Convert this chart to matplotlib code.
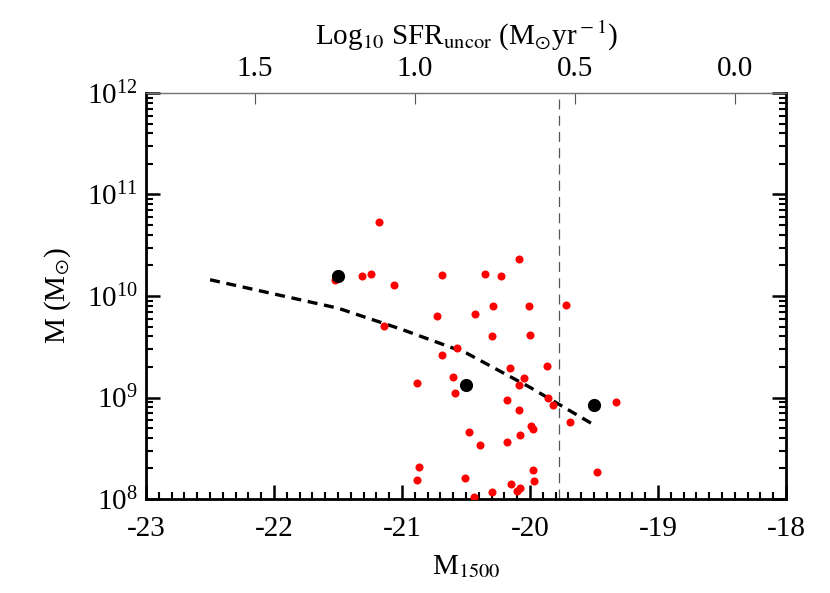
import numpy as np
import matplotlib
matplotlib.use("Agg")
import matplotlib.pyplot as plt
from matplotlib.ticker import LogLocator, LogFormatterMathtext, MultipleLocator, FixedLocator

plt.rcParams["font.family"] = ["Liberation Serif", "DejaVu Serif"]
plt.rcParams["mathtext.fontset"] = "stix"

# individual galaxies: UV magnitude and log stellar mass
red_mag = [-21.18, -21.52, -21.31, -21.24, -21.06, -20.69, -20.73, -20.43, -21.14, -20.57,
           -20.69, -20.60, -20.88, -20.59, -20.48, -20.39, -20.87, -20.88, -20.51, -20.44,
           -20.35, -20.23, -20.09, -20.29, -20.01, -19.72, -20.30, -20.00, -20.16, -20.05,
           -20.09, -19.87, -19.86, -19.82, -20.18, -20.09, -19.69, -19.33, -19.99, -19.98,
           -20.08, -20.18, -19.98, -19.97, -19.48, -20.15, -20.08, -20.10, -20.30]
red_logm = [10.73, 10.16, 10.20, 10.22, 10.11, 10.21, 9.80, 9.82, 9.70, 9.49,
            9.42, 9.20, 9.14, 9.04, 8.66, 8.53, 8.32, 8.19, 8.21, 8.02,
            10.22, 10.20, 10.36, 9.90, 9.90, 9.91, 9.61, 9.62, 9.29, 9.19,
            9.12, 9.31, 9.00, 8.93, 8.98, 8.88, 8.76, 8.96, 8.72, 8.69,
            8.63, 8.56, 8.29, 8.18, 8.27, 8.15, 8.11, 8.08, 8.07]

# binned medians
bin_mag = [-21.5, -20.5, -19.5]
bin_logm = [10.20, 9.12, 8.93]

# dashed relation
rel_mag = [-22.5, -22.0, -21.5, -21.0, -20.5, -20.0, -19.5]
rel_logm = [10.16, 10.02, 9.88, 9.67, 9.44, 9.10, 8.73]

mag_limit = -19.77
sfr_ticks = [1.5, 1.0, 0.5, 0.0]


def mag_to_sfr(m):
    return -0.4 * np.asarray(m) - 7.36


def sfr_to_mag(s):
    return (np.asarray(s) + 7.36) / -0.4


fig = plt.figure(figsize=(8.3, 5.93), dpi=100)
ax = fig.add_axes([0.176, 0.1585, 0.771, 0.6847])

ax.plot(rel_mag, 10 ** np.array(rel_logm), color="black", lw=2.4, ls=(0, (3, 2)), zorder=2)
ax.plot(red_mag, 10 ** np.array(red_logm), "o", color="#ff0000", ms=5.8, mec="none", zorder=3)
ax.plot(bin_mag, 10 ** np.array(bin_logm), "o", color="black", ms=9.5, mec="none", zorder=4)
ax.axvline(mag_limit, color="#555555", lw=0.9, ls=(0, (8, 5)), zorder=1)

ax.set_yscale("log")
ax.set_xlim(-23, -18)
ax.set_ylim(1e8, 1e12)
ax.xaxis.set_major_locator(MultipleLocator(1))
ax.xaxis.set_minor_locator(MultipleLocator(0.1))
ax.yaxis.set_major_locator(LogLocator(base=10))
ax.yaxis.set_major_formatter(LogFormatterMathtext())
ax.yaxis.set_minor_locator(LogLocator(base=10, subs=np.arange(2, 10)))
ax.xaxis.set_major_formatter(plt.FuncFormatter(lambda v, p: "%d" % v))

ax.tick_params(axis="both", which="both", direction="in", labelsize=21, top=False, right=True)
ax.tick_params(axis="both", which="major", length=10, width=1.8)
ax.tick_params(axis="both", which="minor", length=5, width=1.5)
ax.tick_params(axis="x", pad=12)
ax.tick_params(axis="y", pad=6)

for side in ["left", "right", "bottom"]:
    ax.spines[side].set_linewidth(2)
ax.spines["top"].set_linewidth(0.9)
ax.spines["top"].set_color("#777777")

ax.set_xlabel("M$_{1500}$", fontsize=21, labelpad=8)
ax.set_ylabel("M (M$_{\\odot}$)", fontsize=21, labelpad=10)

sec = ax.secondary_xaxis("top", functions=(mag_to_sfr, sfr_to_mag))
sec.xaxis.set_major_locator(FixedLocator(sfr_ticks))
sec.xaxis.set_minor_locator(FixedLocator([]))
sec.xaxis.set_major_formatter(plt.FuncFormatter(lambda v, p: "%.1f" % v))
sec.tick_params(direction="in", length=8, width=0.8, color="#555555", labelsize=21, pad=8)
sec.spines["top"].set_linewidth(0.9)
sec.spines["top"].set_color("#777777")
sec.set_xlabel("Log$_{10}$ SFR$_{\\rm uncor}$ (M$_{\\odot}$yr$^{\\rm -1}$)", fontsize=21, labelpad=8)

fig.savefig("out.png", dpi=100)
